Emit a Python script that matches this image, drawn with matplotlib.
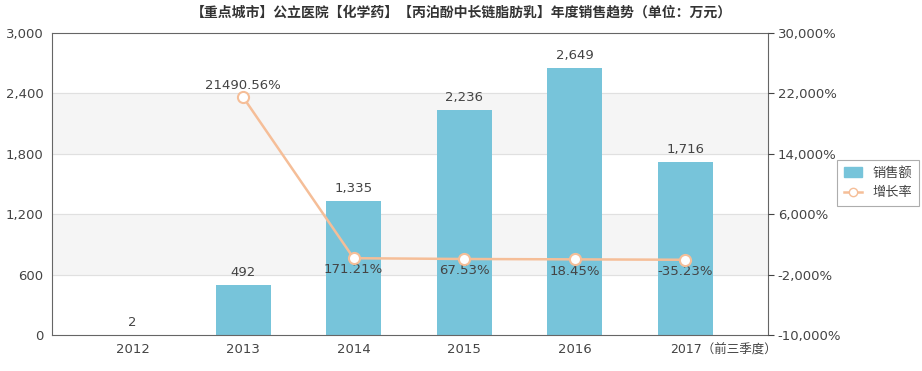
import matplotlib
matplotlib.use("Agg")
import matplotlib.pyplot as plt
from matplotlib.ticker import FuncFormatter
from matplotlib.lines import Line2D
from matplotlib.patches import Patch
from matplotlib.transforms import ScaledTranslation

plt.rcParams['font.family'] = ['DejaVu Sans', 'Noto Sans CJK SC']

categories = ['2012', '2013', '2014', '2015', '2016', '2017（前三季度）']
sales = [2, 492, 1335, 2236, 2649, 1716]
growth = [None, 21490.56, 171.21, 67.53, 18.45, -35.23]
title = '【重点城市】公立医院【化学药】【丙泊酚中长链脂肪乳】年度销售趋势（单位：万元）'

bar_color = '#77C4DA'
line_color = '#F5BE98'
text_color = '#444444'

fig = plt.figure(figsize=(9.22, 3.71), dpi=100)
ax = fig.add_axes([52/922, 36/371, 716/922, 302/371])
x = list(range(len(categories)))

ax.set_ylim(0, 3000)
ax.set_xlim(-0.73, 5.75)
for lo, hi in [(600, 1200), (1800, 2400)]:
    ax.axhspan(lo, hi, color='#F5F5F5', zorder=0)
for y in [600, 1200, 1800, 2400]:
    ax.axhline(y, color='#E0E0E0', lw=0.8, zorder=0.5)

ax.bar(x, sales, width=0.5, color=bar_color, zorder=2)
for xi, v in zip(x, sales):
    ax.text(xi, v + 60, f'{v:,}', ha='center', va='bottom', fontsize=9.5, color=text_color, zorder=5)

ax.set_yticks([0, 600, 1200, 1800, 2400, 3000])
ax.yaxis.set_major_formatter(FuncFormatter(lambda v, p: f'{int(v):,}'))
ax.set_xticks(x)
ax.set_xticklabels(categories, family=['DejaVu Sans', 'Noto Sans CJK SC'])
ax.tick_params(axis='both', colors=text_color, labelsize=9.5, length=0, pad=6)
last = ax.get_xticklabels()[-1]
last.set_horizontalalignment('left')
last.set_fontsize(9)
last.set_transform(last.get_transform() + ScaledTranslation(-0.15, 0, fig.dpi_scale_trans))
for s in ax.spines.values():
    s.set_color('#666666')
    s.set_linewidth(0.8)

ax2 = ax.twinx()
ax2.set_ylim(-10000, 30000)
ax2.set_yticks([-10000, -2000, 6000, 14000, 22000, 30000])
ax2.yaxis.set_major_formatter(FuncFormatter(lambda v, p: f'{int(v):,}%'))
ax2.tick_params(axis='y', colors=text_color, labelsize=9.5, length=4, pad=3)
for s in ax2.spines.values():
    s.set_visible(False)

gx = [xi for xi, g in zip(x, growth) if g is not None]
gy = [g for g in growth if g is not None]
ax2.plot(gx, gy, color=line_color, lw=1.8, marker='o', markersize=8,
         markerfacecolor='white', markeredgecolor=line_color, markeredgewidth=1.5, zorder=4)
for xi, g in zip(gx, gy):
    if g > 10000:
        ax2.text(xi, g + 700, f'{g:.2f}%', ha='center', va='bottom', fontsize=9.5, color=text_color)
    else:
        ax2.text(xi, g - 700, f'{g:.2f}%', ha='center', va='top', fontsize=9.5, color=text_color)

fig.text(0.5, 0.965, title, ha='center', va='center', fontsize=10, fontweight='bold',
         color='#333333', family=['Noto Sans CJK SC', 'DejaVu Sans'])

handles = [Patch(facecolor=bar_color, edgecolor=bar_color),
           Line2D([0], [0], color=line_color, lw=1.8, marker='o', markersize=6,
                  markerfacecolor='white', markeredgecolor=line_color)]
leg = fig.legend(handles, ['销售额', '增长率'], loc='center', bbox_to_anchor=(878/922, 1 - 183/371),
                 prop={'family': ['Noto Sans CJK SC', 'DejaVu Sans'], 'size': 9.5},
                 frameon=True, fancybox=False, edgecolor='#999999', handlelength=1.4,
                 borderpad=0.5, labelspacing=0.5, handletextpad=0.8)
leg.get_frame().set_linewidth(0.8)
for t in leg.get_texts():
    t.set_color(text_color)

fig.savefig('out.png', dpi=100)
